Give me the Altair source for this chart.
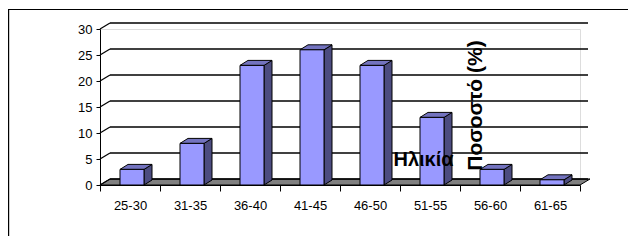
import json
import altair as alt
import pandas as pd

# ---- data ----
categories = ["25-30", "31-35", "36-40", "41-45", "46-50", "51-55", "56-60", "61-65"]
values = [3, 8, 23, 26, 23, 13, 3, 1]
y_ticks = [0, 5, 10, 15, 20, 25, 30]
x_title = "Ηλικία"
y_title = "Ποσοστό (%)"

# ---- layout / style constants ----
W, H = 480, 156
N = len(categories)
YMAX = 30
PXU_X = W / N            # pixels per x unit
PXU_Y = H / YMAX         # pixels per y unit
BAR_OFF, BAR_W = 20, 24  # px inside each category
BAR_DX, BAR_DY = 8, 5    # bar depth (px)
WALL_DX, WALL_DY = 10, 6 # wall depth (px)
FONT = "Liberation Sans"

bdx, bdy = BAR_DX / PXU_X, BAR_DY / PXU_Y
wdx, wdy = WALL_DX / PXU_X, WALL_DY / PXU_Y

xs = alt.Scale(domain=[0, N], nice=False, zero=False)
ys = alt.Scale(domain=[0, YMAX], nice=False, zero=True)

label_expr = "%s[datum.value] || ''" % json.dumps(categories + [""], ensure_ascii=False)
XAX = alt.Axis(
    values=list(range(N + 1)), labelExpr=label_expr, labelOffset=PXU_X / 2,
    labelFlush=False, labelOverlap=False, grid=False, zindex=1,
    tickSize=6, tickColor="black", domainColor="black",
    labelFont=FONT, labelFontSize=13, labelColor="black", labelPadding=8,
    title=x_title, titleFont=FONT, titleFontSize=20, titleFontWeight="bold",
    titleColor="black", titleX=323, titleY=-20, titleAlign="center",
    titleBaseline="alphabetic",
)
YAX = alt.Axis(
    values=y_ticks, grid=False, tickSize=4, tickColor="black", zindex=1,
    domainColor="black", labelFont=FONT, labelFontSize=13,
    labelColor="black", labelPadding=4,
    title=y_title, titleFont=FONT, titleFontSize=21, titleFontWeight="bold",
    titleColor="black", titleX=381.5, titleY=76, titleAngle=270,
    titleAlign="center", titleBaseline="alphabetic",
)

x0s = [i + BAR_OFF / PXU_X for i in range(N)]
x1s = [i + (BAR_OFF + BAR_W) / PXU_X for i in range(N)]
front = pd.DataFrame({"grp": categories, "v": values, "x0": x0s, "x1": x1s})

side_rows, top_rows = [], []
for g, v, a, b in zip(categories, values, x0s, x1s):
    side_rows.append({"grp": g, "x": b, "ylo": 0, "yhi": v})
    side_rows.append({"grp": g, "x": b + bdx, "ylo": bdy, "yhi": v + bdy})
    top_rows.append({"grp": g, "y": v, "xa": a, "xb": b})
    top_rows.append({"grp": g, "y": v + bdy, "xa": a + bdx, "xb": b + bdx})
side = pd.DataFrame(side_rows)
top = pd.DataFrame(top_rows)

floor = pd.DataFrame({"y": [0, wdy], "xa": [0, wdx], "xb": [N, N + wdx]})
grid = pd.DataFrame({"v": y_ticks,
                     "vb": [t + wdy for t in y_ticks],
                     "xa": [wdx] * len(y_ticks),
                     "xb": [N + wdx * 0.8] * len(y_ticks),
                     "x0": [0] * len(y_ticks)})

frame = alt.Chart(pd.DataFrame({"a": [0]})).mark_rect(
    fillOpacity=0, stroke="black", strokeWidth=1.2
).encode(x=alt.value(-91.4), x2=alt.value(800), y=alt.value(-19.5), y2=alt.value(600))

floor_l = alt.Chart(floor).mark_area(
    orient="horizontal", color="#808080", stroke="black", strokeWidth=1
).encode(
    y=alt.Y("y:Q", scale=ys, axis=YAX),
    x=alt.X("xa:Q", scale=xs, axis=XAX),
    x2="xb:Q",
)

grid_l = alt.Chart(grid).mark_rule(color="black", strokeWidth=1.3).encode(
    x=alt.X("xa:Q", scale=xs, axis=XAX), x2="xb:Q",
    y=alt.Y("vb:Q", scale=ys, axis=YAX),
)
diag_l = alt.Chart(grid).mark_rule(color="black", strokeWidth=1.2).encode(
    x=alt.X("x0:Q", scale=xs, axis=XAX), x2="xa:Q",
    y=alt.Y("v:Q", scale=ys, axis=YAX), y2="vb:Q",
)

side_l = alt.Chart(side).mark_area(
    color="#4C4C80", stroke="black", strokeWidth=1
).encode(
    x=alt.X("x:Q", scale=xs, axis=XAX),
    y=alt.Y("ylo:Q", scale=ys, axis=YAX), y2="yhi:Q",
    detail="grp:N",
)
top_l = alt.Chart(top).mark_area(
    orient="horizontal", color="#7373BF", stroke="black", strokeWidth=1
).encode(
    y=alt.Y("y:Q", scale=ys, axis=YAX),
    x=alt.X("xa:Q", scale=xs, axis=XAX), x2="xb:Q",
    detail="grp:N",
)

front_l = alt.Chart(front).mark_rect(
    color="#9999FF", stroke="black", strokeWidth=1
).encode(
    x=alt.X("x0:Q", scale=xs, axis=XAX),
    x2="x1:Q",
    y=alt.Y("v:Q", scale=ys, axis=YAX),
    y2=alt.datum(0),
)

chart = alt.layer(frame, floor_l, grid_l, diag_l, side_l, top_l, front_l).properties(
    width=W, height=H,
    autosize=alt.AutoSizeParams(type="none"),
    padding={"left": 92, "top": 21, "right": 48, "bottom": 51},
).configure_view(stroke=None).configure(background="white")

chart.save("out.html", embed_options={"renderer": "svg", "actions": False})
